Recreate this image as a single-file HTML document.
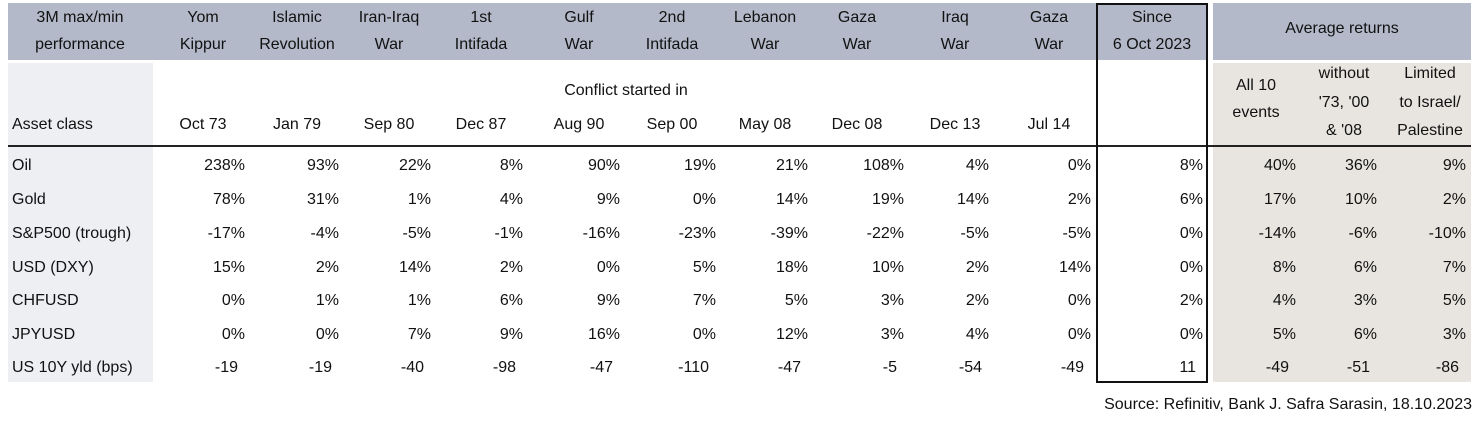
<!DOCTYPE html>
<html><head><meta charset="utf-8">
<style>
body{margin:0;width:1483px;height:428px;background:#fff;position:relative;overflow:hidden;font-family:"Liberation Sans",sans-serif;font-size:16px;color:#111}
.a{position:absolute;white-space:nowrap;line-height:18px}
.h{line-height:27px}
.h3{line-height:28.5px}
.c{transform:translateX(-50%);text-align:center}
.r{transform:translateX(-100%);text-align:right}
.bx{position:absolute}
</style></head>
<body>
<div class="bx" style="left:8px;top:3px;width:1088px;height:57px;background:#b3b9c9"></div>
<div class="bx" style="left:1097px;top:3px;width:110px;height:57px;background:#b3b9c9"></div>
<div class="bx" style="left:1213px;top:3px;width:258px;height:57px;background:#b3b9c9"></div>
<div class="bx" style="left:8px;top:63px;width:145px;height:319px;background:#eeeff3"></div>
<div class="bx" style="left:1213px;top:63px;width:258px;height:319px;background:#e8e5e0"></div>
<div class="bx" style="left:8px;top:145px;width:1463px;height:2px;background:#222"></div>
<div class="bx" style="left:1096px;top:3px;width:108px;height:376px;border:2px solid #111"></div>
<div id="t"></div>
<div class="a r" style="left:1472px;top:396px">Source: Refinitiv, Bank J. Safra Sarasin, 18.10.2023</div>
<script>
const events=[["Yom","Kippur"],["Islamic","Revolution"],["Iran-Iraq","War"],["1st","Intifada"],["Gulf","War"],["2nd","Intifada"],["Lebanon","War"],["Gaza","War"],["Iraq","War"],["Gaza","War"]];
const dates=["Oct 73","Jan 79","Sep 80","Dec 87","Aug 90","Sep 00","May 08","Dec 08","Dec 13","Jul 14"];
const assets=["Oil","Gold","S&P500 (trough)","USD (DXY)","CHFUSD","JPYUSD","US 10Y yld (bps)"];
const oil=["238%","93%","22%","8%","90%","19%","21%","108%","4%","0%","8%","40%","36%","9%"];
const gold=["78%","31%","1%","4%","9%","0%","14%","19%","14%","2%","6%","17%","10%","2%"];
const spx=["-17%","-4%","-5%","-1%","-16%","-23%","-39%","-22%","-5%","-5%","0%","-14%","-6%","-10%"];
const usd=["15%","2%","14%","2%","0%","5%","18%","10%","2%","14%","0%","8%","6%","7%"];
const chf=["0%","1%","1%","6%","9%","7%","5%","3%","2%","0%","2%","4%","3%","5%"];
const jpy=["0%","0%","7%","9%","16%","0%","12%","3%","4%","0%","0%","5%","6%","3%"];
const ust=["-19","-19","-40","-98","-47","-110","-47","-5","-54","-49","11","-49","-51","-86"];
const rows=[oil,gold,spx,usd,chf,jpy,ust];
const t=document.getElementById('t');
function add(txt,x,y,cls,name){const d=document.createElement('div');d.className='a '+cls;d.style.left=x+'px';d.style.top=y+'px';d.innerHTML=txt;


t.appendChild(d);}
const cx=[203,297,389,481,579,672,765,857,955,1049];
const rx=[245,339,431,523,620,716,808,904,989,1091,1203,1296,1377,1466];
add('3M max/min<br>performance',80,4,'c h','header-title');
events.forEach((e,i)=>add(e[0]+'<br>'+e[1],cx[i],4,'c h','event-header'));
add('Since<br>6 Oct 2023',1152,4,'c h','since-header');
add('Average returns',1342,20,'c','avg-header');
add('Conflict started in',626,82,'c','conflict-label');
add('Asset class',12,116,'','asset-class-label');
dates.forEach((d,i)=>add(d,cx[i],116,'c','start-date'));
add('All 10<br>events',1256,72,'c h','avg-all-header');
add('without<br>\'73, \'00<br>&amp; \'08',1344,60,'c h3','avg-without-header');
add('Limited<br>to Israel/<br>Palestine',1430,60,'c h3','avg-israel-header');
const ry=[157,191,225,259,292,326,359];
assets.forEach((a,i)=>{add(a.replace('&','&amp;'),12,ry[i],'','asset-label');
rows[i].forEach((v,j)=>add(v,rx[j]-(i==6?7:0),ry[i],'r','value-cell'));});
</script>
</body></html>
